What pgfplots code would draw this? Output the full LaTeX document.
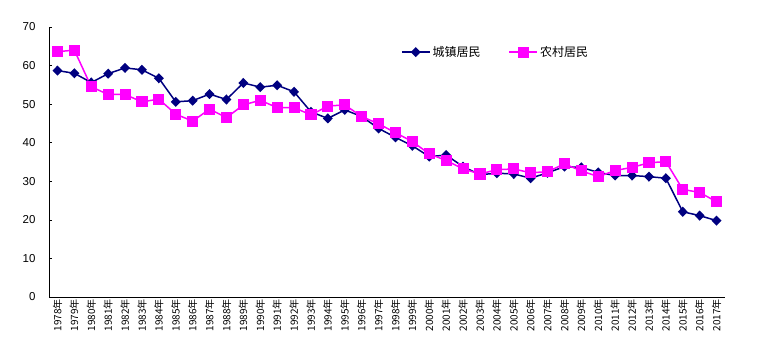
\documentclass[border=0pt]{standalone}
\usepackage{pgfplots}
\pgfplotsset{compat=1.18}
\usepackage{fontspec}
\setmainfont{Liberation Sans}
\newfontfamily\cjk{Noto Sans CJK SC}
\definecolor{navyc}{RGB}{0,0,128}
\definecolor{magc}{RGB}{255,0,255}
\begin{document}
\begin{tikzpicture}[x=1pt,y=1pt]
\useasboundingbox (0,0) rectangle (775,359);
\begin{axis}[
  at={(49pt,62pt)}, anchor=south west,
  scale only axis, width=676pt, height=270pt,
  xmin=-0.5, xmax=39.5, ymin=0, ymax=70,
  axis x line*=bottom, axis y line*=left,
  axis line style={black, line width=0.8pt},
  tick align=inside,
  ytick={0,10,...,70},
  major tick length=3pt, minor tick length=3pt,
  tick style={black, line width=0.6pt},
  xtick={0,...,39},
  xticklabels={1978年,1979年,1980年,1981年,1982年,1983年,1984年,1985年,1986年,1987年,1988年,1989年,1990年,1991年,1992年,1993年,1994年,1995年,1996年,1997年,1998年,1999年,2000年,2001年,2002年,2003年,2004年,2005年,2006年,2007年,2008年,2009年,2010年,2011年,2012年,2013年,2014年,2015年,2016年,2017年},
  x tick style={draw=none},
  minor xtick={-0.5,0.5,...,39.5},
  minor x tick style={black, line width=0.6pt},
  xticklabel style={rotate=90, anchor=east, font=\cjk\fontsize{10}{10}\selectfont, inner sep=2pt},
  yticklabel style={font=\fontsize{11.5}{12}\selectfont, xshift=-10pt},
  /pgf/number format/assume math mode=true,
  legend columns=2,
  legend style={at={(0.516,0.907)}, anchor=west, draw=none, fill=none,
    font=\cjk\fontsize{12}{12}\selectfont,
    /tikz/every even column/.append style={column sep=26pt}},
  legend image code/.code={\draw[mark repeat=2,mark phase=2] plot coordinates {(0pt,0pt)(14pt,0pt)(28pt,0pt)};},
]
\addplot[navyc, line width=1.5pt, mark=diamond*, mark size=4pt, mark options={xscale=1.3, fill=navyc, draw=navyc}] coordinates {
(0,58.7)(1,58.0)(2,55.6)(3,57.9)(4,59.4)(5,58.9)(6,56.7)(7,50.6)(8,50.9)(9,52.6)
(10,51.2)(11,55.5)(12,54.4)(13,54.9)(14,53.2)(15,48.0)(16,46.3)(17,48.5)(18,46.8)(19,43.7)
(20,41.4)(21,39.2)(22,36.4)(23,36.8)(24,33.8)(25,31.7)(26,32.1)(27,31.9)(28,30.8)(29,32.2)
(30,33.8)(31,33.6)(32,32.3)(33,31.5)(34,31.5)(35,31.2)(36,30.8)(37,22.1)(38,21.1)(39,19.8)
};
\addlegendentry{城镇居民}
\addplot[magc, line width=1.5pt, mark=square*, mark size=4.8pt, mark options={fill=magc, draw=magc}] coordinates {
(0,63.6)(1,64.0)(2,54.5)(3,52.5)(4,52.5)(5,50.6)(6,51.3)(7,47.4)(8,45.6)(9,48.7)
(10,46.5)(11,49.8)(12,51.0)(13,49.1)(14,49.1)(15,47.2)(16,49.5)(17,49.8)(18,46.8)(19,44.9)
(20,42.6)(21,40.3)(22,37.1)(23,35.4)(24,33.2)(25,31.9)(26,33.0)(27,33.2)(28,32.2)(29,32.5)
(30,34.5)(31,32.7)(32,31.2)(33,32.8)(34,33.6)(35,34.8)(36,35.1)(37,27.9)(38,27.1)(39,24.7)
};
\addlegendentry{农村居民}
\end{axis}
\end{tikzpicture}
\end{document}
